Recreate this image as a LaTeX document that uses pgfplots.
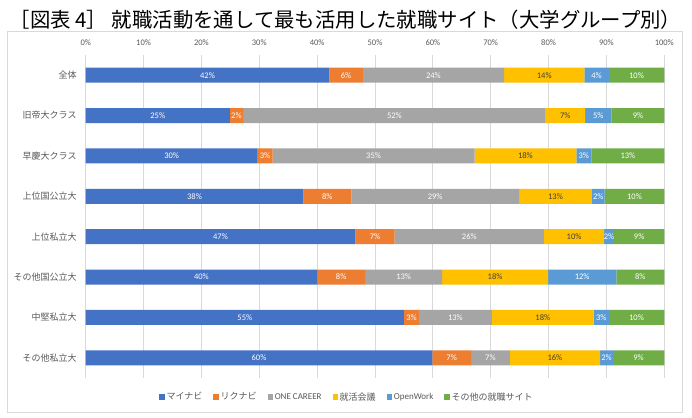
\documentclass[border=0pt]{standalone}
\usepackage{fontspec}
\setmainfont{Carlito}
\newfontfamily\jp{Noto Sans CJK JP}
\usepackage{pgfplots}
\usepackage{pgfplotstable}
\pgfplotsset{compat=1.18}
\definecolor{cblue}{HTML}{4472C4}
\definecolor{corange}{HTML}{ED7D31}
\definecolor{cgray}{HTML}{A5A5A5}
\definecolor{cyellow}{HTML}{FFC000}
\definecolor{clblue}{HTML}{5B9BD5}
\definecolor{cgreen}{HTML}{70AD47}
\definecolor{ctext}{HTML}{595959}
\definecolor{cgrid}{HTML}{D9D9D9}
\definecolor{cdark}{HTML}{404040}

\pgfplotstableread{
idx a b c d e f la lb lc ld le lf
0 42.1 5.8 24.4 13.9 4.2 9.6 42 6 24 14 4 10
1 24.9 2.3 52.3 6.8 4.6 9.1 25 2 52 7 5 9
2 29.7 2.6 34.9 17.6 2.6 12.6 30 3 35 18 3 13
3 37.6 8.3 29.0 12.6 2.2 10.3 38 8 29 13 2 10
4 46.6 6.8 25.8 10.4 1.7 8.7 47 7 26 10 2 9
5 40.0 8.3 13.3 18.3 11.8 8.3 40 8 13 18 12 8
6 55.0 2.6 12.6 17.6 2.6 9.6 55 3 13 18 3 10
7 59.9 6.7 6.7 15.6 2.2 8.9 60 7 7 16 2 9
}\data

\pgfplotsset{
  geom/.style={
    at={(85.7bp,40bp)}, anchor=south west,
    scale only axis, width=578.6bp, height=323bp,
    xmin=0, xmax=100, ymin=-0.5, ymax=7.5, y dir=reverse,
  },
  lab/.style={draw=none, mark=none, point meta=explicit symbolic,
    nodes near coords={\pgfplotspointmeta\%},
    every node near coord/.append style={anchor=center, font=\fontsize{8.5bp}{10bp}\selectfont, inner sep=0pt, text=#1}},
}

\begin{document}
\begin{tikzpicture}
\path[fill=white] (0,0) rectangle (692bp,418bp);
\draw[cgrid, line width=0.75bp] (7.3bp,5.7bp) rectangle (682.7bp,387bp);
\node[font=\jp\fontsize{20.4bp}{22bp}\selectfont, text=black, inner sep=0pt] at (345.5bp,398bp) {［図表 4］ 就職活動を通して最も活用した就職サイト（大学グループ別）};
\begin{axis}[
  geom,
  xbar stacked, bar width=15bp,
  xtick={0,10,...,100},
  xticklabels={0\%,10\%,20\%,30\%,40\%,50\%,60\%,70\%,80\%,90\%,100\%},
  xticklabel pos=upper,
  ytick={0,...,7},
  yticklabels={全体,旧帝大クラス,早慶大クラス,上位国公立大,上位私立大,その他国公立大,中堅私立大,その他私立大},
  major tick length=0pt,
  axis line style={draw=none},
  xmajorgrids, ymajorgrids=false,
  major grid style={cgrid, line width=0.75bp},
  xticklabel style={font=\fontsize{8.5bp}{10bp}\selectfont, text=ctext, inner sep=0pt, yshift=9bp},
  yticklabel style={font=\jp\fontsize{9bp}{10bp}\selectfont, text=ctext, inner sep=0pt, xshift=-9bp},
  legend columns=6,
  legend style={draw=none, fill=none, at={(0.4516,-0.0588)}, anchor=center,
    font=\fontsize{9bp}{10bp}\selectfont, text=ctext,
    /tikz/every even column/.append style={column sep=9bp},
    inner sep=0pt},
  legend image code/.code={\fill[#1,draw=none] (0bp,-2.6bp) rectangle (5.2bp,2.6bp);},
]
\addplot[fill=cblue, draw=none] table[x=a,y=idx]{\data};
\addlegendentry{\jp マイナビ}
\addplot[fill=corange, draw=none] table[x=b,y=idx]{\data};
\addlegendentry{\jp リクナビ}
\addplot[fill=cgray, draw=none] table[x=c,y=idx]{\data};
\addlegendentry{ONE CAREER}
\addplot[fill=cyellow, draw=none] table[x=d,y=idx]{\data};
\addlegendentry{\jp 就活会議}
\addplot[fill=clblue, draw=none] table[x=e,y=idx]{\data};
\addlegendentry{OpenWork}
\addplot[fill=cgreen, draw=none] table[x=f,y=idx]{\data};
\addlegendentry{\jp その他の就職サイト}
\end{axis}
\begin{axis}[geom, hide axis, clip=false]
\addplot[lab=white] table[x expr={\thisrow{a}/2}, y=idx, meta=la]{\data};
\addplot[lab=white] table[x expr={\thisrow{a}+\thisrow{b}/2}, y=idx, meta=lb]{\data};
\addplot[lab=white] table[x expr={\thisrow{a}+\thisrow{b}+\thisrow{c}/2}, y=idx, meta=lc]{\data};
\addplot[lab=cdark] table[x expr={\thisrow{a}+\thisrow{b}+\thisrow{c}+\thisrow{d}/2}, y=idx, meta=ld]{\data};
\addplot[lab=white] table[x expr={\thisrow{a}+\thisrow{b}+\thisrow{c}+\thisrow{d}+\thisrow{e}/2}, y=idx, meta=le]{\data};
\addplot[lab=white] table[x expr={\thisrow{a}+\thisrow{b}+\thisrow{c}+\thisrow{d}+\thisrow{e}+\thisrow{f}/2}, y=idx, meta=lf]{\data};
\end{axis}
\end{tikzpicture}
\end{document}
